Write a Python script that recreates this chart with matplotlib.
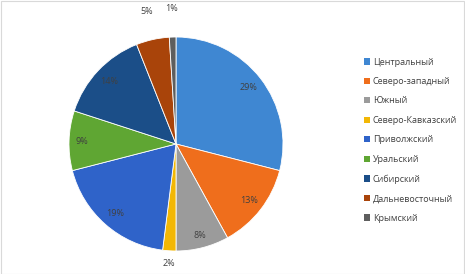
import numpy as np
import matplotlib
matplotlib.use("Agg")
import matplotlib.pyplot as plt
from matplotlib.patches import Rectangle, Patch

plt.rcParams['font.family'] = ['Open Sans', 'DejaVu Sans']

regions = ["Центральный", "Северо-западный", "Южный", "Северо-Кавказский",
           "Приволжский", "Уральский", "Сибирский", "Дальневосточный", "Крымский"]
shares = [29, 13, 8, 2, 19, 9, 14, 5, 1]
colors = ["#3F87D2", "#EF6E1C", "#9B9B9B", "#F2B705",
          "#2F63C9", "#5FA633", "#1B4E88", "#A9440A", "#5E5E5E"]
# label distance from centre (in radii) for each slice
label_dist = [0.86, 0.86, 0.88, 1.12, 0.86, 0.88, 0.86, 1.27, 1.27]

W, H = 465, 274
fig = plt.figure(figsize=(W / 100, H / 100), dpi=100)

cx, cy, r = 176, 130, 107
ax = fig.add_axes([(cx - r) / W, (cy - r) / H, 2 * r / W, 2 * r / H])
wedges, _ = ax.pie(shares, colors=colors, startangle=90, counterclock=False,
                   radius=1, wedgeprops=dict(linewidth=0.6, edgecolor="white"))
ax.set_xlim(-1, 1)
ax.set_ylim(-1, 1)
ax.set_aspect("equal")
ax.axis("off")

total = sum(shares)
for w, v, d in zip(wedges, shares, label_dist):
    ang = np.deg2rad((w.theta1 + w.theta2) / 2)
    ax.text(d * np.cos(ang), d * np.sin(ang), f"{round(100 * v / total)}%",
            ha="center", va="center", fontsize=6.5, color="#404040", clip_on=False)

handles = [Patch(facecolor=c, edgecolor="none") for c in colors]
fig.legend(handles, regions, loc="upper left", bbox_to_anchor=(359 / W, 1 - 53 / H),
           frameon=False, fontsize=6.5, handlelength=0.7, handleheight=0.7,
           handletextpad=0.35, labelspacing=1.16, borderpad=0, labelcolor="#404040")

fig.add_artist(Rectangle((0.5 / W, 0.5 / H), 1 - 1.5 / W, 1 - 1.5 / H,
                         transform=fig.transFigure, fill=False,
                         edgecolor="#D9D9D9", linewidth=0.8))

fig.savefig("out.png", dpi=100)
